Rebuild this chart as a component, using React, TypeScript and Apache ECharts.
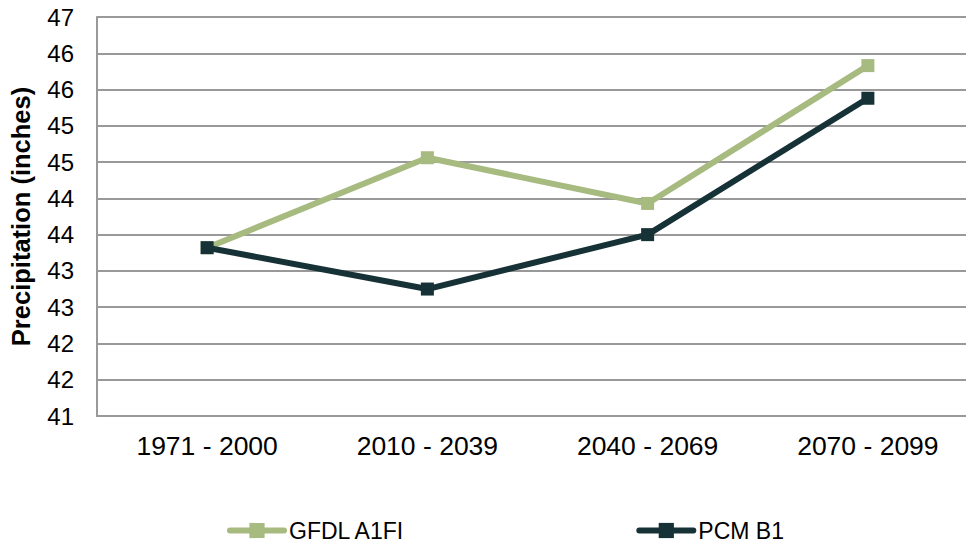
import React, { useEffect, useRef } from "react";
import * as echarts from "echarts";

const categories = ["1971 - 2000", "2010 - 2039", "2040 - 2069", "2070 - 2099"];
const gfdlA1FI = [43.32, 44.56, 43.93, 45.83];
const pcmB1 = [43.32, 42.75, 43.5, 45.38];
const seriesNames = ["GFDL A1FI", "PCM B1"];
const yMin = 41;
const yMax = 46.5;
const yInterval = 0.5;
const yAxisTitle = "Precipitation (inches)";

const FONT = "'Liberation Sans', Arial, sans-serif";
const GREEN = "#A7BA7F";
const DARK = "#163236";

export default function App() {
  const ref = useRef<HTMLDivElement>(null);
  useEffect(() => {
    if (!ref.current) return;
    const chart = echarts.init(ref.current, undefined, { renderer: "svg" });
    chart.setOption({
      animation: false,
      backgroundColor: "#ffffff",
      textStyle: { fontFamily: FONT },
      grid: { left: 97, right: 12, top: 17, bottom: 128, containLabel: false },
      xAxis: {
        type: "category",
        data: categories,
        boundaryGap: true,
        axisLine: { show: true, lineStyle: { color: "#999999", width: 2 } },
        axisTick: { show: false },
        axisLabel: { color: "#000", fontSize: 26.5, margin: 16, fontFamily: FONT },
        splitLine: { show: false },
      },
      yAxis: {
        type: "value",
        min: yMin,
        max: yMax,
        interval: yInterval,
        name: yAxisTitle,
        nameLocation: "middle",
        nameGap: 63,
        nameTextStyle: { color: "#000", fontSize: 25.5, fontWeight: "bold", fontFamily: FONT },
        axisLine: { show: true, lineStyle: { color: "#999999", width: 2 } },
        axisTick: { show: false },
        axisLabel: {
          color: "#000",
          fontSize: 24,
          margin: 23,
          fontFamily: FONT,
          formatter: (v: number) => String(Math.round(v)),
        },
        splitLine: { show: true, lineStyle: { color: "#999999", width: 2 } },
      },
      legend: {
        data: seriesNames,
        left: 222,
        top: 514,
        orient: "horizontal",
        itemWidth: 54,
        itemHeight: 19,
        itemGap: 231,
        textStyle: { color: "#000", fontSize: 23, fontFamily: FONT },
        lineStyle: { width: 6, cap: "round" },
      },
      series: [
        {
          name: seriesNames[0],
          type: "line",
          data: gfdlA1FI,
          symbol: "rect",
          symbolSize: 13,
          lineStyle: { color: GREEN, width: 6 },
          itemStyle: { color: GREEN },
          z: 2,
        },
        {
          name: seriesNames[1],
          type: "line",
          data: pcmB1,
          symbol: "rect",
          symbolSize: 13,
          lineStyle: { color: DARK, width: 6 },
          itemStyle: { color: DARK },
          z: 3,
        },
      ],
    });
    return () => chart.dispose();
  }, []);
  return (
    <div
      style={{
        position: "fixed",
        left: 0,
        top: 0,
        width: 966,
        height: 544,
        overflow: "hidden",
        background: "#fff",
      }}
    >
      <div ref={ref} style={{ width: 990, height: 544 }} />
    </div>
  );
}
